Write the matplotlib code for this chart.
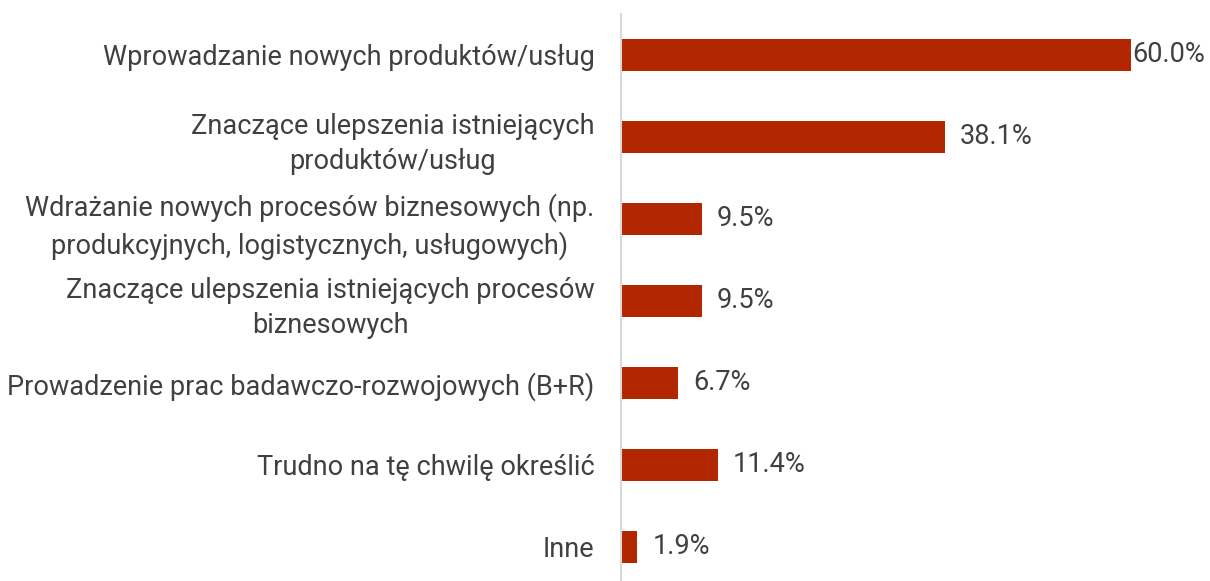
import numpy as np
import matplotlib.pyplot as plt

# Data
categories = [
    'Wprowadzanie nowych produktów/usług',
    'Znaczące ulepszenia istniejących\nproduktów/usług',
    'Wdrażanie nowych procesów biznesowych (np.\nprodukcyjnych, logistycznych, usługowych)',
    'Znaczące ulepszenia istniejących procesów\nbiznesowych',
    'Prowadzenie prac badawczo-rozwojowych (B+R)',
    'Trudno na tę chwilę określić',
    'Inne',
]
values = [60.0, 38.1, 9.5, 9.5, 6.7, 11.4, 1.9]

bar_color  = '#B22600'
text_color = '#404040'
font_size  = 19.5

plt.rcParams['font.family'] = ['Roboto', 'DejaVu Sans']

fig = plt.figure(figsize=(12.10, 5.81), dpi=100)
ax = fig.add_axes([621/1210, -0.012, (1131-621)/1210, 0.988])

y = np.arange(len(categories))
ax.barh(y, values, height=0.39, color=bar_color)

ax.set_xlim(0, 60)
ax.set_ylim(len(categories) - 0.5, -0.5)

ax.set_yticks(y)
ax.set_yticklabels(categories, fontsize=font_size, color=text_color,
                   multialignment='center', linespacing=1.4)
ax.tick_params(axis='y', length=0, pad=19)
ax.set_xticks([])

for s in ['top', 'right', 'bottom']:
    ax.spines[s].set_visible(False)
ax.spines['left'].set_color('#D9D9D9')
ax.spines['left'].set_linewidth(1.5)

# value labels
for yi, v in zip(y, values):
    off = 1 if v == max(values) else 11
    ax.annotate(f'{v:.1f}%', (v, yi), xytext=(off, 0), textcoords='offset points',
                va='center', ha='left', fontsize=font_size, color=text_color,
                annotation_clip=False)

fig.savefig('out.png', dpi=100)
